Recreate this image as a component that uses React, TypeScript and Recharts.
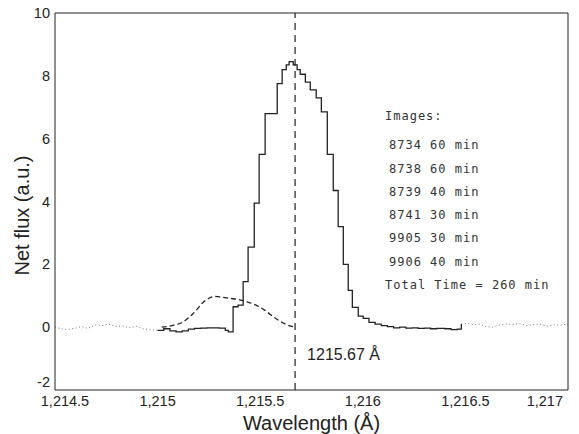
import React from 'react';
import { LineChart, Line, XAxis, YAxis, ReferenceLine } from 'recharts';

const xTicks = [1214.5, 1215, 1215.5, 1216, 1216.5, 1217];
const yTicks = [-2, 0, 2, 4, 6, 8, 10];
const restWavelength = 1215.67;

const leftWingX = [1214.5, 1214.53, 1214.56, 1214.6, 1214.63, 1214.66, 1214.7, 1214.73, 1214.76, 1214.8, 1214.83, 1214.86, 1214.9, 1214.93, 1214.96, 1215.0];
const leftWingY = [0.0, -0.05, -0.08, -0.03, 0.02, -0.04, 0.08, 0.05, 0.1, 0.02, 0.04, -0.02, 0.03, -0.05, -0.08, -0.1];

const profileX = [1215.0, 1215.03, 1215.06, 1215.09, 1215.12, 1215.15, 1215.18, 1215.21, 1215.24, 1215.27, 1215.3, 1215.33, 1215.345,
  1215.368, 1215.392, 1215.417, 1215.441, 1215.471, 1215.495, 1215.524, 1215.583, 1215.607, 1215.627, 1215.641, 1215.661,
  1215.68, 1215.695, 1215.72, 1215.744, 1215.773, 1215.798, 1215.827, 1215.856, 1215.88, 1215.905, 1215.929, 1215.949,
  1215.978, 1216.002, 1216.03, 1216.06, 1216.09, 1216.12, 1216.15, 1216.18, 1216.21, 1216.24, 1216.27, 1216.3, 1216.33,
  1216.36, 1216.4, 1216.43, 1216.46, 1216.48];
const profileY = [-0.1, -0.05, -0.12, -0.15, -0.12, -0.06, -0.04, -0.03, -0.02, -0.02, -0.03, -0.1, -0.15,
  0.65, 0.7, 1.45, 2.55, 3.95, 5.5, 6.8, 7.75, 8.2, 8.35, 8.45, 8.35,
  8.2, 8.05, 7.8, 7.55, 7.3, 6.85, 5.5, 4.35, 3.2, 2.0, 1.17, 0.63,
  0.35, 0.28, 0.15, 0.1, 0.05, 0.02, -0.02, 0.0, -0.03, -0.02, -0.04, -0.03, -0.05,
  -0.04, -0.05, -0.08, -0.06, 0.1];

const rightWingX = [1216.48, 1216.51, 1216.54, 1216.57, 1216.6, 1216.63, 1216.66, 1216.7, 1216.73, 1216.76, 1216.8, 1216.83, 1216.86, 1216.9, 1216.93, 1216.96, 1217.0];
const rightWingY = [0.1, 0.12, 0.08, 0.1, 0.02, 0.0, 0.06, 0.1, 0.08, 0.12, 0.05, 0.08, 0.1, 0.03, 0.08, 0.06, 0.1];

const modelX = [1215.02, 1215.07, 1215.12, 1215.16, 1215.19, 1215.22, 1215.25, 1215.28, 1215.31, 1215.35, 1215.4, 1215.44, 1215.48, 1215.52, 1215.55, 1215.58, 1215.61, 1215.64, 1215.67];
const modelY = [0.0, 0.05, 0.15, 0.35, 0.55, 0.78, 0.92, 0.98, 0.96, 0.92, 0.87, 0.8, 0.7, 0.55, 0.4, 0.26, 0.14, 0.05, 0.0];

const legendTitle = 'Images:';
const legendLines = ['8734 60 min', '8738 60 min', '8739 40 min', '8741 30 min', '9905 30 min', '9906 40 min'];
const legendTotal = 'Total Time = 260 min';

const zip = (xs: number[], ys: number[]) => xs.map((x, i) => ({ x, y: ys[i] }));

const leftWing = zip(leftWingX, leftWingY);
const profile = zip(profileX, profileY);
const rightWing = zip(rightWingX, rightWingY);
const model = zip(modelX, modelY);

const fmt = (v: number) => v.toLocaleString('en-US', { maximumFractionDigits: 2 });

const FONT = 'Liberation Sans, Arial, sans-serif';

const XTick = (props: any) => {
  const { x, y, payload, index } = props;
  const isLast = index === xTicks.length - 1;
  const isFirst = index === 0;
  return (
    <text x={isFirst ? x + 10 : x} y={y} dy="0.71em" textAnchor={isLast ? 'end' : 'middle'} fontFamily={FONT} fontSize={14.5} fill="#222">
      {fmt(payload.value)}
    </text>
  );
};

const YTick = (props: any) => {
  const { x, y, payload } = props;
  const lift = payload.value === yTicks[0] ? -8 : 0;
  return (
    <text x={x} y={y + lift} dy="0.355em" textAnchor="end" fontFamily={FONT} fontSize={14.5} fill="#222">
      {fmt(payload.value)}
    </text>
  );
};

const RestLabel = (props: any) => {
  const vb = props.viewBox || {};
  return (
    <text x={vb.x + 12} y={vb.y + vb.height - 30} fontFamily={FONT} fontSize={16} fill="#222">
      1215.67 Å
    </text>
  );
};

const YTitle = (props: any) => {
  const vb = props.viewBox || {};
  const cx = 22;
  const cy = vb.y + vb.height / 2 + 14;
  return (
    <text x={cx} y={cy} transform={`rotate(-90 ${cx} ${cy})`} textAnchor="middle" dominantBaseline="central" fontFamily={FONT} fontSize={20} fill="#222">
      Net flux (a.u.)
    </text>
  );
};

export default function App() {
  return (
    <div style={{ position: 'absolute', left: 0, top: 0, width: 579, height: 434, background: '#fff' }}>
      <LineChart width={579} height={434} margin={{ top: 13, right: 11, bottom: 0, left: 0 }}>
        <XAxis
          xAxisId="main"
          dataKey="x"
          type="number"
          domain={[1214.5, 1217]}
          ticks={xTicks}
          height={44}
          tickSize={0}
          tickLine={false}
          tickMargin={6}
          stroke="#222"
          tick={<XTick />}
          allowDataOverflow
          label={{ value: 'Wavelength (Å)', position: 'insideBottom', offset: 4, style: { fontFamily: FONT, fontSize: 20, fill: '#222' } }}
        />
        <XAxis
          xAxisId="bottomTicks"
          orientation="bottom"
          type="number"
          domain={[1214.5, 1217]}
          ticks={xTicks}
          height={1}
          mirror
          tick={false}
          axisLine={false}
          tickSize={6}
          stroke="#222"
        />
        <XAxis
          xAxisId="top"
          orientation="top"
          type="number"
          domain={[1214.5, 1217]}
          ticks={xTicks}
          height={1}
          mirror
          tick={false}
          tickSize={6}
          stroke="#222"
        />
        <YAxis
          yAxisId="main"
          type="number"
          domain={[-2, 10]}
          ticks={yTicks}
          width={55}
          tickSize={0}
          tickLine={false}
          tickMargin={5}
          stroke="#222"
          tick={<YTick />}
          allowDataOverflow
          label={<YTitle />}
        />
        <YAxis
          yAxisId="leftTicks"
          orientation="left"
          type="number"
          domain={[-2, 10]}
          ticks={yTicks}
          width={1}
          mirror
          tick={false}
          axisLine={false}
          tickSize={4}
          stroke="#222"
        />
        <YAxis
          yAxisId="right"
          orientation="right"
          type="number"
          domain={[-2, 10]}
          ticks={yTicks}
          width={1}
          mirror
          tick={false}
          tickLine={false}
          stroke="#222"
        />
        <ReferenceLine xAxisId="main" yAxisId="main" x={restWavelength} stroke="#222" strokeWidth={1.2} strokeDasharray="7 5" label={<RestLabel />} />
        <Line xAxisId="main" yAxisId="main" data={leftWing} dataKey="y" type="linear" dot={false} stroke="#777" strokeWidth={1} strokeDasharray="1 2.5" isAnimationActive={false} />
        <Line xAxisId="main" yAxisId="main" data={rightWing} dataKey="y" type="linear" dot={false} stroke="#777" strokeWidth={1} strokeDasharray="1 2.5" isAnimationActive={false} />
        <Line xAxisId="main" yAxisId="main" data={model} dataKey="y" type="monotone" dot={false} stroke="#222" strokeWidth={1.3} strokeDasharray="5 3" isAnimationActive={false} />
        <Line xAxisId="main" yAxisId="main" data={profile} dataKey="y" type="stepAfter" dot={false} stroke="#222" strokeWidth={1.3} isAnimationActive={false} />
      </LineChart>
      <div style={{ position: 'absolute', left: 385, top: 105, fontFamily: 'DejaVu Sans Mono, monospace', fontSize: 12, letterSpacing: 1, color: '#333', lineHeight: '23.3px', whiteSpace: 'pre' }}>
        <div style={{ marginBottom: 6 }}>{legendTitle}</div>
        {legendLines.map((t) => (
          <div key={t} style={{ paddingLeft: 4 }}>{t}</div>
        ))}
        <div>{legendTotal}</div>
      </div>
    </div>
  );
}
